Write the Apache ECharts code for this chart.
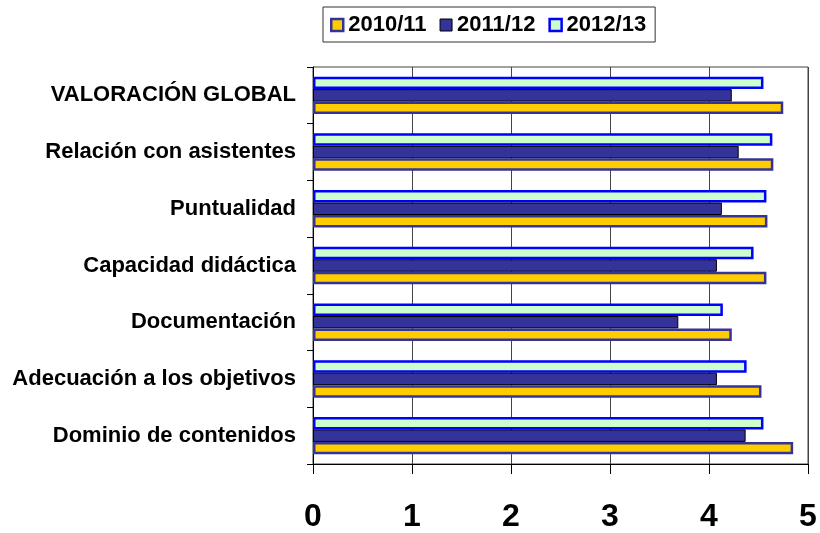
<!DOCTYPE html>
<html><head><meta charset="utf-8">
<script src="https://cdn.jsdelivr.net/npm/echarts@6/dist/echarts.min.js"></script>
<style>html,body{margin:0;padding:0;background:#fff}#c{width:820px;height:533px}</style>
</head><body><div id="c"></div>
<script>
const categories = ["Dominio de contenidos","Adecuación a los objetivos","Documentación","Capacidad didáctica","Puntualidad","Relación con asistentes","VALORACIÓN GLOBAL"];
const seriesNames = ["2010/11","2011/12","2012/13"];
const v2010 = [4.85,4.53,4.23,4.58,4.59,4.65,4.75];
const v2011 = [4.37,4.08,3.69,4.08,4.13,4.30,4.23];
const v2012 = [4.55,4.38,4.14,4.45,4.58,4.64,4.55];
const xTicks = [0,1,2,3,4,5];

const styles = [
  {color:'#FFCC00', borderColor:'#333399', borderWidth:2.5},
  {color:'#333399', borderColor:'#000000', borderWidth:1},
  {color:'#CCFFCC', borderColor:'#0000FF', borderWidth:2.5}
];
const values = [v2010, v2011, v2012];
const order = [2,1,0];
const chart = echarts.init(document.getElementById('c'));
chart.setOption({
  animation:false,
  textStyle:{fontFamily:'Liberation Sans, Arial, sans-serif'},
  legend:{
    data: seriesNames.map((n,i)=>({name:n, icon:'rect', itemStyle:styles[i]})),
    top:7, left:323, itemWidth:12, itemHeight:12, itemGap:13,
    padding:[7,9,6,7],
    borderColor:'#333', borderWidth:1,
    textStyle:{fontSize:22, fontWeight:'bold', color:'#000', fontFamily:'Liberation Sans, Arial, sans-serif'}
  },
  grid:{left:313, right:12, top:67, bottom:65, show:true, borderColor:'#444', borderWidth:1},
  xAxis:{
    type:'value', min:0, max:5, interval:1,
    axisLine:{show:true, lineStyle:{color:'#000'}},
    axisTick:{show:true, length:10, lineStyle:{color:'#000'}},
    splitLine:{show:true, lineStyle:{color:'#444', width:1}},
    axisLabel:{fontSize:32, fontWeight:'bold', color:'#000', margin:37,
      formatter:(v)=> xTicks.includes(v) ? String(v) : ''}
  },
  yAxis:{
    type:'category', data:categories,
    axisLine:{show:true, lineStyle:{color:'#000'}},
    axisTick:{show:true, length:6, lineStyle:{color:'#000'}},
    axisLabel:{fontSize:22, fontWeight:'bold', color:'#000', margin:17}
  },
  series: order.map(i=>({
    name:seriesNames[i], type:'bar', data:values[i], barGap:'0%', barCategoryGap:'34%',
    itemStyle:styles[i]
  }))
});
</script></body></html>
